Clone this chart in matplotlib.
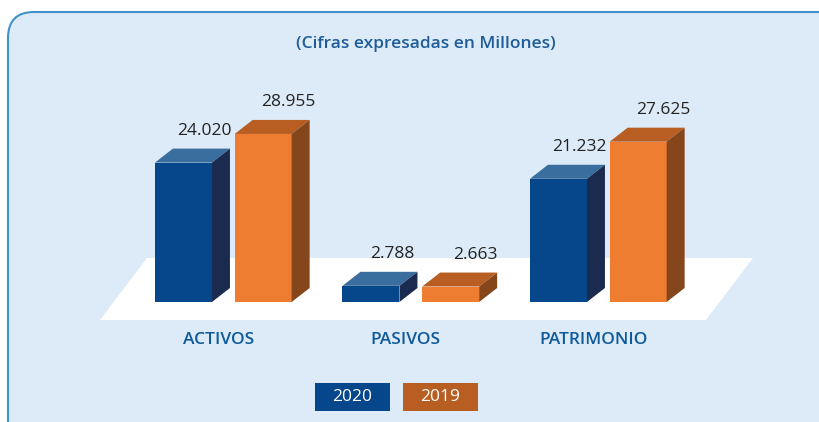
import matplotlib
matplotlib.use("Agg")
import matplotlib.pyplot as plt
from matplotlib.patches import Polygon, FancyBboxPatch, Rectangle
import numpy as np

categories = ["ACTIVOS", "PASIVOS", "PATRIMONIO"]
series_names = ["2020", "2019"]
values_2020 = [24020, 2788, 21232]
values_2019 = [28955, 2663, 27625]
title_text = "(Cifras expresadas en Millones)"

FONT = "Open Sans"
W, H = 820, 422
fig = plt.figure(figsize=(W / 100, H / 100), dpi=100)
fig.patch.set_facecolor("white")

# decoration axes in pixel coordinates
deco = fig.add_axes([0, 0, 1, 1])
deco.set_xlim(0, W)
deco.set_ylim(H, 0)
deco.axis("off")

box = FancyBboxPatch((8, 12), 860, 460, boxstyle="round,pad=0,rounding_size=26",
                     facecolor="#DCEBF7", edgecolor="#3F93CC", linewidth=1.5)
deco.add_patch(box)
floor = Polygon([(147, 258), (753, 258), (706, 320), (100, 320)], closed=True,
                facecolor="white", edgecolor="none")
deco.add_patch(floor)
deco.text(426, 44, title_text, ha="center", va="center", fontsize=12.5,
          color="#1F5C99", fontweight="semibold", family=FONT)

# legend boxes
leg_cols = ["#05478A", "#B85E22"]
for i, name in enumerate(series_names):
    x0 = 315 + i * 88
    deco.add_patch(Rectangle((x0, 383), 75, 28, facecolor=leg_cols[i], edgecolor="none"))
    deco.text(x0 + 37.5, 397, name, ha="center", va="center", color="white",
              fontsize=12.5, family=FONT, fontweight="medium")

# data axes
ax = fig.add_axes([0, 0, 1, 1], zorder=2)
ax.patch.set_alpha(0)
ax.axis("off")
px_x = 187.5          # pixels per category
x_origin = 223.2      # pixel of first category
k = 172.3             # value units per pixel
ax.set_xlim(-x_origin / px_x, (W - x_origin) / px_x)
ax.set_ylim(-120 * k, 302 * k)

x = np.arange(len(categories))
width = 57 / px_x
dx = 18 / px_x
dy = 14 * k
offsets = [-0.212, 0.213]
front_cols = ["#05478A", "#EE7D31"]
side_cols = ["#1A2B4F", "#84461A"]
top_cols = ["#3A6E9F", "#B85E22"]
label_dx = [12, 16]

for s, vals in enumerate([values_2020, values_2019]):
    xs = x + offsets[s]
    ax.bar(xs, vals, width=width, color=front_cols[s], linewidth=0, zorder=3)
    for xc, v in zip(xs, vals):
        x0, x1 = xc - width / 2, xc + width / 2
        ax.add_patch(Polygon([(x0, v), (x1, v), (x1 + dx, v + dy), (x0 + dx, v + dy)],
                             closed=True, facecolor=top_cols[s], edgecolor="none", zorder=3))
        ax.add_patch(Polygon([(x1, 0), (x1 + dx, dy), (x1 + dx, v + dy), (x1, v)],
                             closed=True, facecolor=side_cols[s], edgecolor="none", zorder=3))
        lab = f"{v:,}".replace(",", ".")
        ax.annotate(lab, (xc + dx / 2, v + dy), xytext=(label_dx[s], 18),
                    textcoords="offset pixels", ha="center", va="center",
                    fontsize=12.5, color="#222222", family=FONT, fontweight="medium")

for i, c in enumerate(categories):
    ax.annotate(c, (i, 0), xytext=(-5, -38), textcoords="offset pixels",
                ha="center", va="center", fontsize=12.5, color="#0F5A9A",
                family=FONT, fontweight="semibold")

fig.savefig("out.png", dpi=100)
